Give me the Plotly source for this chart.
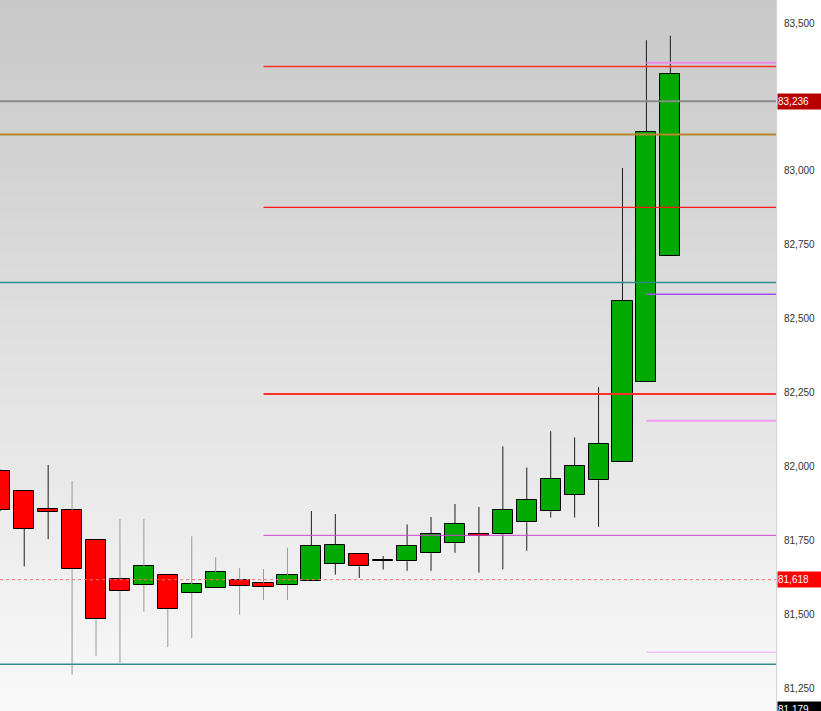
import plotly.graph_objects as go

# ---- candle data (oldest -> newest) ----
open_ = [81986, 81918, 81856, 81852, 81753, 81619, 81599, 81633, 81573, 81589,
         81616, 81606, 81599, 81612, 81672, 81706, 81684, 81680, 81707, 81741,
         81773, 81771, 81812, 81849, 81905, 81954, 82015, 82288, 82712]
close = [81853, 81790, 81848, 81653, 81484, 81581, 81663, 81518, 81602, 81644,
         81597, 81594, 81633, 81731, 81735, 81663, 81682, 81733, 81773, 81805,
         81766, 81855, 81886, 81958, 82001, 82078, 82561, 83131, 83327]
high = [81990, 81918, 82006, 81952, 81753, 81823, 81823, 81633, 81765, 81694,
        81657, 81654, 81726, 81850, 81840, 81706, 81698, 81805, 81830, 81874,
        81864, 82069, 81997, 82120, 82099, 82269, 83010, 83442, 83457]
low = [81850, 81663, 81755, 81297, 81360, 81337, 81510, 81390, 81420, 81589,
       81500, 81549, 81549, 81612, 81635, 81624, 81652, 81648, 81648, 81709,
       81642, 81653, 81716, 81828, 81828, 81797, 82015, 82288, 82712]

# ---- horizontal levels ----
level_values = [83366, 83353, 83236, 83123, 82877, 82623, 82583, 82246,
                82155, 81768, 81618, 81373, 81332]
level_start_bar = [27, 11, None, None, 11, None, 27, 11, 27, 11, None, 27, None]

# ---- price tags on the axis ----
tag_values = [83236, 81618, 81179]
tag_texts = ["83,236", "81,618", "81,179"]

# ---- axis ----
y_ticks = [81250, 81500, 81750, 82000, 82250, 82500, 82750, 83000, 83500]
y_tick_text = ["81,250", "81,500", "81,750", "82,000", "82,250", "82,500",
               "82,750", "83,000", "83,500"]

# ---------------- styles ----------------
level_styles = [
    dict(color="#EE8CEE", width=2, dash="solid"),
    dict(color="#FF3030", width=1.5, dash="solid"),
    dict(color="#8A8A8A", width=2, dash="solid"),
    dict(color="#B8862B", width=2, dash="solid"),
    dict(color="#FF1A1A", width=1.2, dash="solid"),
    dict(color="#2E8A8A", width=1.5, dash="solid"),
    dict(color="#A050F5", width=1.5, dash="solid"),
    dict(color="#FF3030", width=2, dash="solid"),
    dict(color="#F49CF0", width=2, dash="solid"),
    dict(color="#D040D0", width=1, dash="solid"),
    dict(color="#FF7070", width=1, dash="dot"),
    dict(color="#F2C4F2", width=1.5, dash="solid"),
    dict(color="#338A8A", width=1.5, dash="solid"),
]
tag_bg = ["#B80000", "#FF0000", "#000000"]
light_wick_bars = set(range(3, 13))

n = len(open_)
xs = list(range(n))

fig = go.Figure()

# wicks (split so they never cross the body)
wick_groups = {"#1E1E1E": ([], []), "#9A9A9A": ([], [])}
for i in xs:
    col = "#9A9A9A" if i in light_wick_bars else "#1E1E1E"
    wx, wy = wick_groups[col]
    top = max(open_[i], close[i])
    bot = min(open_[i], close[i])
    if high[i] > top:
        wx += [i, i, None]
        wy += [top, high[i], None]
    if low[i] < bot:
        wx += [i, i, None]
        wy += [bot, low[i], None]
for col, (wx, wy) in wick_groups.items():
    fig.add_trace(go.Scatter(x=wx, y=wy, mode="lines",
                             line=dict(color=col, width=1),
                             hoverinfo="skip", showlegend=False))

up_x = [i for i in xs if close[i] >= open_[i]]
dn_x = [i for i in xs if close[i] < open_[i]]
for idx, color in ((up_x, "#00AA00"), (dn_x, "#FF0000")):
    fig.add_trace(go.Bar(
        x=idx,
        base=[min(open_[i], close[i]) for i in idx],
        y=[abs(close[i] - open_[i]) for i in idx],
        width=0.84,
        marker=dict(color=color, line=dict(color="#000000", width=1)),
        showlegend=False, hoverinfo="skip"))

shapes = []
# background vertical gradient (overlapping strips to avoid seams)
N = 90
top_c, bot_c = 200, 249
for k in range(N):
    t = (k + 0.5) / N
    c = round(bot_c + (top_c - bot_c) * t)
    shapes.append(dict(type="rect", xref="paper", yref="paper",
                       x0=0, x1=1, y0=k / N, y1=min(1.0, (k + 2) / N),
                       fillcolor=f"rgb({c},{c},{c})", line=dict(width=0),
                       layer="below"))

for v, s, st in zip(level_values, level_start_bar, level_styles):
    if s is None:
        shapes.append(dict(type="line", xref="paper", yref="y", x0=0, x1=1,
                           y0=v, y1=v, line=st, layer="above"))
    else:
        shapes.append(dict(type="line", xref="x", yref="y", x0=s, x1=40,
                           y0=v, y1=v, line=st, layer="above"))

annotations = []
for v, txt, bg in zip(tag_values, tag_texts, tag_bg):
    annotations.append(dict(
        x=1, xref="paper", y=v, yref="y", xanchor="left", yanchor="middle",
        text=txt, showarrow=False, xshift=1,
        bgcolor=bg, width=44, height=15, align="left", borderpad=0,
        font=dict(family="Liberation Sans, Arial", size=10, color="#FFFFFF")))

fig.update_layout(
    width=821, height=711,
    margin=dict(l=0, r=45, t=0, b=0, autoexpand=False),
    paper_bgcolor="#FFFFFF",
    plot_bgcolor="#F8F8F8",
    barmode="overlay",
    bargap=0,
    shapes=shapes,
    annotations=annotations,
    showlegend=False,
    xaxis=dict(range=[-0.0125, 32.415], visible=False, fixedrange=True),
    yaxis=dict(range=[81174, 83578], side="right", showgrid=False,
               zeroline=False, tickmode="array", tickvals=y_ticks,
               ticktext=y_tick_text, ticks="", ticklabelstandoff=5,
               showline=True, linecolor="#D4D4D4", linewidth=1,
               automargin=False,
               tickfont=dict(family="Liberation Sans, Arial", size=10,
                             color="#333333")),
)

fig.write_html("out.html",
               config={"displayModeBar": False},
               post_script="document.body.style.margin='0';"
                           "document.body.style.overflow='hidden';")
